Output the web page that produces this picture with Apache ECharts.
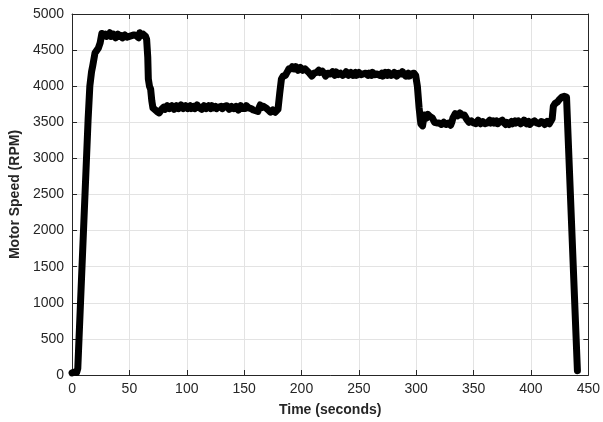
<!DOCTYPE html>
<html>
<head>
<meta charset="utf-8">
<script src="https://cdn.jsdelivr.net/npm/echarts@6/dist/echarts.min.js"></script>
<style>
html,body{margin:0;padding:0;background:#fff;}
#chart{width:603px;height:422px;}
</style>
</head>
<body>
<div id="chart"></div>
<script>
// Time (s) and motor speed (RPM) samples
var speedData = [
[0,30],[1,15],[2,40],[3,20],[4,35],[5,90],
[14,3540],[15.5,4000],[17,4200],[18,4280],[20,4460],[23,4530],[24.5,4600],[26,4730],
[27,4700],[28,4680],[29,4720],[30,4690],[31,4670],[32,4710],[33,4740],[34,4690],[35,4680],[36,4720],
[37,4700],[38,4670],[39,4690],[40,4720],[41,4690],[42,4680],[43,4700],[44,4670],[45,4690],[46,4710],
[47,4700],[48,4680],[49,4660],[50,4690],[51,4680],[52,4700],[53,4690],[54,4710],[55,4730],[56,4700],
[57,4680],[58,4670],[59,4740],[60,4700],[61,4680],[62,4720],[63,4700],[64,4690],
[65,4650],[66,4400],[66.5,4100],[67.5,4000],[68.5,3960],[69.5,3800],[70.5,3700],[72,3680],[74,3650],
[76,3630],[78,3680],[80,3710],[81,3680],[82,3690],[83,3730],[84,3720],[85,3690],[86,3700],[87,3730],
[88,3710],[89,3680],[90,3690],[91,3730],[92,3720],[93,3690],[94,3700],[95,3740],
[96,3730],[97,3690],[98,3700],[99,3730],[100,3720],[101,3690],[102,3710],[103,3730],[104,3690],[105,3700],
[106,3720],[107,3690],[108,3700],[109,3740],[110,3730],[111,3700],[112,3710],[113,3680],
[114,3690],[115,3730],[116,3720],[117,3690],[118,3700],[119,3730],[120,3710],[121,3690],[122,3730],
[123,3700],[124,3700],[125,3720],[126,3690],[127,3680],[128,3710],[129,3730],[130,3720],[131,3690],
[132,3680],[133,3720],[134,3700],[135,3730],[136,3710],[137,3680],[138,3690],[139,3720],[140,3720],
[141,3690],[142,3680],[143,3720],[144,3700],[145,3670],[146,3690],[147,3730],[148,3720],[149,3690],
[150,3710],[151,3690],[152,3730],[153,3710],[154,3700],[155,3680],[156,3690],[157,3670],[158,3670],
[159,3690],[160,3660],[161,3680],[162,3650],[163,3700],[164,3740],[165,3700],[166,3680],[167,3720],
[168,3740],[169,3700],[170,3690],[171,3670],[172,3660],[173,3640],[174,3650],[175,3670],[176,3660],
[177,3640],[178,3650],[179.5,3680],
[181,3900],[182.5,4100],[184,4140],[185,4120],[186,4150],[187,4180],[188,4210],[189,4240],[190,4260],
[191,4240],[192,4270],[193,4250],[194,4240],[195,4270],[196,4250],[197,4220],
[198,4230],[199,4260],[200,4240],[201,4220],[202,4210],[203,4240],[204,4230],[205,4210],[206,4200],
[207,4180],[208,4160],[209,4140],[210,4150],[211,4180],[212,4170],[213,4190],[214,4200],
[215,4220],[216,4190],[217,4170],[218,4210],[219,4190],[220,4170],[221,4140],[222,4150],[223,4180],
[224,4190],[225,4170],[226,4160],[227,4200],[228,4180],[229,4150],[230,4200],[231,4180],[232,4160],
[233,4140],[234,4180],[235,4190],[236,4150],[237,4160],[238,4170],[239,4200],[240,4190],[241,4150],
[242,4160],[243,4190],[244,4180],[245,4150],[246,4170],[247,4190],[248,4150],[249,4160],[250,4190],
[251,4170],[252,4160],[253,4140],[254,4170],[255,4190],[256,4180],[257,4160],[258,4150],[259,4180],
[260,4170],[261,4150],[262,4190],[263,4180],[264,4160],[265,4140],[266,4170],[267,4190],[268,4150],
[269,4160],[270,4180],[271,4140],[272,4160],[273,4190],[274,4170],[275,4150],[276,4190],[277,4170],
[278,4150],[279,4140],[280,4160],[281,4190],[282,4170],[283,4140],[284,4150],[285,4180],[286,4160],
[287,4170],[288,4200],[289,4170],[290,4150],[291,4140],[292,4160],[293,4180],[294,4140],[295,4150],
[296,4170],[297,4150],[298,4180],[299.5,4150],
[301,4000],[302.5,3700],[304,3480],[305.5,3450],[307,3600],[308,3580],[309,3560],[310,3610],[311,3620],
[312,3580],[313,3590],[314,3560],[315,3540],[316,3500],[317,3520],[318,3490],[319,3470],[320,3490],
[321,3500],[322,3470],[323,3460],[324,3500],[325,3490],[326,3470],[327,3450],[328,3490],[329,3480],
[330,3460],[331,3500],[332,3560],[333,3590],[334,3620],[335,3610],[336,3590],[337,3600],[338,3630],
[339,3620],[340,3600],[341,3590],[342,3600],[343,3570],[344,3540],[345,3520],[346,3500],[347,3480],
[348,3520],[349,3510],[350,3490],[351,3470],[352,3480],[353,3500],[354,3530],[355,3520],[356,3480],
[357,3490],[358,3510],[359,3500],[360,3480],[361,3460],[362,3490],[363,3510],[364,3530],[365,3490],
[366,3470],[367,3520],[368,3490],[369,3500],[370,3520],[371,3480],[372,3470],[373,3510],[374,3490],
[375,3530],[376,3500],[377,3490],[378,3470],[379,3500],[380,3520],[381,3470],[382,3490],[383,3510],
[384,3480],[385,3500],[386,3520],[387,3490],[388,3470],[389,3520],[390,3500],[391,3480],[392,3490],
[393,3500],[394,3530],[395,3510],[396,3480],[397,3490],[398,3510],[399,3470],[400,3490],[401,3500],
[402,3480],[403,3520],[404,3500],[405,3490],[406,3470],[407,3480],[408,3500],[409,3510],[410,3490],
[411,3500],[412,3470],[413,3480],[414,3510],[415,3490],[416,3480],[417,3500],[418.5,3550],[419.5,3720],
[421,3760],[422,3740],[423,3780],[424,3770],[425,3820],[426,3800],[427,3850],[428,3830],[429,3860],
[430,3840],[431,3850],[440.5,60]
];
var xTicks = [0,50,100,150,200,250,300,350,400,450];
var yTicks = [0,500,1000,1500,2000,2500,3000,3500,4000,4500,5000];
var xLabel = 'Time (seconds)';
var yLabel = 'Motor Speed (RPM)';

var font = 'Liberation Sans, Arial, Helvetica, sans-serif';
var axisColor = '#262626';
var chart = echarts.init(document.getElementById('chart'), null, {renderer:'canvas'});
var commonTick = {show:true, inside:true, length:5, lineStyle:{color:axisColor, width:1}};
function plain(v){ return String(v); }
chart.setOption({
  animation:false,
  backgroundColor:'#fff',
  grid:{left:70, right:11, top:14, bottom:46, containLabel:false},
  xAxis:[{
    type:'value', min:xTicks[0], max:xTicks[xTicks.length-1], interval:50,
    name:xLabel, nameLocation:'middle', nameGap:28,
    nameTextStyle:{fontFamily:font, fontSize:14, fontWeight:'bold', color:axisColor},
    axisLine:{show:true, onZero:false, lineStyle:{color:axisColor, width:1}},
    axisTick:commonTick,
    axisLabel:{fontFamily:font, fontSize:14, color:axisColor, margin:7, formatter:plain},
    splitLine:{show:true, lineStyle:{color:'#e3e3e3', width:1}}
  },{
    type:'value', position:'top', min:xTicks[0], max:xTicks[xTicks.length-1], interval:50,
    axisLine:{show:true, onZero:false, lineStyle:{color:axisColor, width:1}},
    axisTick:commonTick, axisLabel:{show:false}, splitLine:{show:false}
  }],
  yAxis:[{
    type:'value', min:yTicks[0], max:yTicks[yTicks.length-1], interval:500,
    name:yLabel, nameLocation:'middle', nameGap:43, nameRotate:90,
    nameTextStyle:{fontFamily:font, fontSize:14, fontWeight:'bold', color:axisColor},
    axisLine:{show:true, onZero:false, lineStyle:{color:axisColor, width:1}},
    axisTick:commonTick,
    axisLabel:{fontFamily:font, fontSize:14, color:axisColor, margin:8, formatter:plain},
    splitLine:{show:true, lineStyle:{color:'#e3e3e3', width:1}}
  },{
    type:'value', position:'right', min:yTicks[0], max:yTicks[yTicks.length-1], interval:500,
    axisLine:{show:true, onZero:false, lineStyle:{color:axisColor, width:1}},
    axisTick:commonTick, axisLabel:{show:false}, splitLine:{show:false}
  }],
  series:[{
    type:'line', data:speedData, xAxisIndex:0, yAxisIndex:0,
    showSymbol:false, symbol:'none', smooth:false,
    lineStyle:{color:'#000', width:7, cap:'round', join:'round'},
    z:5
  }]
});
</script>
</body>
</html>
